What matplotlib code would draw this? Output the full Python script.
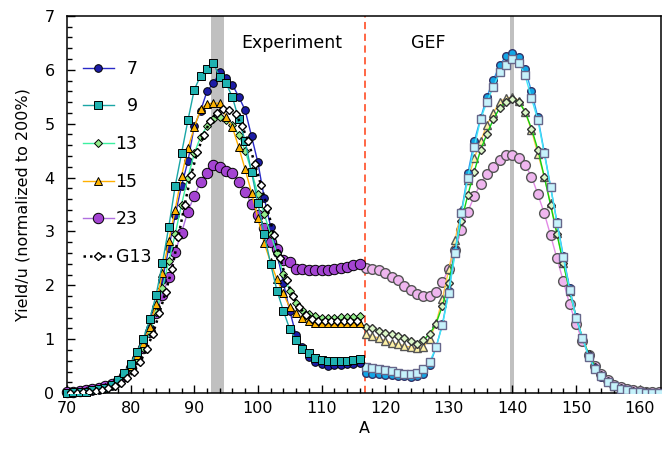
import matplotlib

matplotlib.use("Agg")
import matplotlib.pyplot as plt
from matplotlib.ticker import MultipleLocator

# mass numbers
a_exp = list(range(70, 117))
a_gef = list(range(117, 164))
a_g13 = [a + 0.5 for a in range(70, 116)]

# experiment yields (A = 70..116)
y7_exp = [0.01, 0.01, 0.02, 0.03, 0.04, 0.06, 0.09, 0.14, 0.22, 0.34,
          0.50, 0.70, 0.92, 1.20, 1.60, 2.10, 2.70, 3.30, 3.85, 4.30,
          4.95, 5.24, 5.60, 5.75, 5.95, 5.85, 5.72, 5.50, 5.25, 4.77,
          4.28, 3.62, 3.09, 2.60, 2.05, 1.53, 1.08, 0.85, 0.68, 0.58,
          0.55, 0.50, 0.52, 0.53, 0.54, 0.55, 0.56]
y9_exp = [0.01, 0.02, 0.02, 0.03, 0.05, 0.07, 0.10, 0.16, 0.25, 0.38,
          0.55, 0.76, 1.01, 1.37, 1.82, 2.41, 3.09, 3.84, 4.45, 5.06,
          5.63, 5.89, 6.02, 6.12, 5.87, 5.75, 5.49, 5.08, 4.68, 4.10,
          3.52, 2.95, 2.40, 1.90, 1.53, 1.19, 0.98, 0.82, 0.74, 0.66,
          0.62, 0.60, 0.60, 0.59, 0.60, 0.61, 0.63]
y13_exp = [0.01, 0.02, 0.03, 0.04, 0.06, 0.08, 0.11, 0.16, 0.23, 0.32,
           0.45, 0.62, 0.84, 1.13, 1.50, 1.95, 2.45, 2.95, 3.50, 4.00,
           4.45, 4.76, 4.95, 5.09, 5.12, 5.07, 4.98, 4.79, 4.50, 4.12,
           3.69, 3.32, 2.95, 2.60, 2.22, 1.90, 1.68, 1.55, 1.47, 1.43,
           1.40, 1.40, 1.40, 1.41, 1.42, 1.42, 1.43]
y15_exp = [0.01, 0.02, 0.02, 0.03, 0.05, 0.07, 0.10, 0.15, 0.23, 0.35,
           0.50, 0.70, 0.93, 1.22, 1.66, 2.23, 2.83, 3.40, 4.03, 4.54,
           4.93, 5.27, 5.37, 5.38, 5.38, 5.13, 4.93, 4.56, 4.15, 3.72,
           3.25, 2.78, 2.43, 2.11, 1.85, 1.59, 1.49, 1.39, 1.34, 1.31,
           1.30, 1.30, 1.30, 1.30, 1.30, 1.30, 1.30]
y23_exp = [0.02, 0.03, 0.04, 0.05, 0.07, 0.10, 0.13, 0.17, 0.23, 0.32,
           0.46, 0.63, 0.83, 1.14, 1.48, 1.82, 2.16, 2.62, 2.98, 3.37,
           3.66, 3.92, 4.08, 4.24, 4.19, 4.13, 4.09, 3.92, 3.73, 3.51,
           3.30, 3.07, 2.81, 2.68, 2.47, 2.43, 2.31, 2.30, 2.28, 2.28,
           2.28, 2.29, 2.30, 2.32, 2.35, 2.38, 2.40]
y_g13 = [0.01, 0.01, 0.02, 0.03, 0.04, 0.06, 0.09, 0.13, 0.19, 0.28,
         0.40, 0.58, 0.82, 1.10, 1.48, 1.88, 2.30, 2.90, 3.50, 4.05,
         4.48, 4.79, 5.05, 5.20, 5.28, 5.26, 5.18, 4.96, 4.67, 4.26,
         3.86, 3.43, 2.93, 2.50, 2.10, 1.80, 1.60, 1.45, 1.38, 1.34,
         1.33, 1.33, 1.33, 1.33, 1.33, 1.34]

# GEF yields (A = 117..163)
y7_gef = [0.37, 0.36, 0.35, 0.34, 0.33, 0.32, 0.31, 0.30, 0.31, 0.36,
          0.52, 0.85, 1.28, 1.90, 2.65, 3.37, 4.08, 4.67, 5.10, 5.50,
          5.81, 6.08, 6.26, 6.31, 6.23, 6.01, 5.60, 5.12, 4.48, 3.83,
          3.18, 2.55, 1.95, 1.42, 1.03, 0.69, 0.46, 0.30, 0.20, 0.13,
          0.08, 0.05, 0.03, 0.02, 0.01, 0.01, 0.00]
y9_gef = [0.49, 0.47, 0.45, 0.43, 0.41, 0.38, 0.36, 0.36, 0.38, 0.44,
          0.58, 0.85, 1.26, 1.86, 2.60, 3.34, 4.00, 4.57, 5.08, 5.41,
          5.68, 5.95, 6.09, 6.20, 6.13, 5.90, 5.47, 5.07, 4.45, 3.83,
          3.16, 2.52, 1.92, 1.40, 1.03, 0.67, 0.45, 0.31, 0.20, 0.13,
          0.08, 0.05, 0.03, 0.02, 0.01, 0.01, 0.00]
y13_gef = [1.23, 1.20, 1.16, 1.12, 1.10, 1.06, 1.02, 0.97, 0.92, 0.98,
           1.10, 1.29, 1.62, 2.05, 2.66, 3.20, 3.68, 4.11, 4.51, 4.81,
           5.08, 5.29, 5.41, 5.46, 5.41, 5.22, 4.91, 4.52, 4.02, 3.49,
           2.95, 2.41, 1.88, 1.42, 1.02, 0.72, 0.49, 0.33, 0.22, 0.14,
           0.09, 0.06, 0.04, 0.02, 0.02, 0.01, 0.01]
y15_gef = [1.10, 1.06, 1.02, 0.97, 0.93, 0.91, 0.88, 0.85, 0.83, 0.86,
           1.00, 1.30, 1.75, 2.30, 2.85, 3.40, 3.95, 4.36, 4.67, 4.98,
           5.20, 5.41, 5.47, 5.50, 5.43, 5.22, 4.88, 4.44, 4.02, 3.52,
           2.98, 2.42, 1.90, 1.42, 1.03, 0.72, 0.49, 0.33, 0.22, 0.14,
           0.09, 0.06, 0.04, 0.02, 0.02, 0.01, 0.01]
y23_gef = [2.33, 2.31, 2.28, 2.23, 2.16, 2.10, 1.99, 1.91, 1.84, 1.80,
           1.80, 1.88, 2.06, 2.31, 2.66, 3.03, 3.37, 3.65, 3.89, 4.07,
           4.20, 4.33, 4.41, 4.42, 4.37, 4.23, 4.02, 3.69, 3.34, 2.93,
           2.50, 2.08, 1.65, 1.29, 0.97, 0.71, 0.51, 0.35, 0.24, 0.16,
           0.11, 0.07, 0.05, 0.04, 0.03, 0.02, 0.02]

legend_labels = ["\u20077", "\u20079", "13", "15", "23", "G13"]

plt.rcParams["font.family"] = ["DejaVu Sans"]

fig = plt.figure(figsize=(6.7, 4.54), dpi=100)
ax = fig.add_axes([0.100, 0.134, 0.887, 0.831])

ax.axvspan(92.6, 94.7, color="#c0c0c0", lw=0, zorder=0)
ax.axvspan(139.6, 140.3, color="#c0c0c0", lw=0, zorder=0)
ax.axvline(116.8, color="#ff5a36", ls=(0, (4, 2.5)), lw=1.3, zorder=1)

kw = dict(mec="black", mew=0.7, lw=1.0, clip_on=False)

# GEF part
ax.plot(a_gef, y23_gef, "o", ms=7, mfc="#efb6ef", color="#e28ae6", mec="#555555", ls="-", lw=1.0, zorder=2)
ax.plot(a_gef, y15_gef, "^", ms=6, mfc="#fff2a6", color="#ffc44a", mec="#555555", ls="-", lw=1.0, zorder=2)
ax.plot(a_gef, y13_gef, "D", ms=4.5, mfc="#dcf7c8", color="#10d010", mec="#333333", ls="-", lw=1.0, zorder=3)
ax.plot(a_gef, y7_gef, "o", ms=5.5, mfc="#12a6e6", color="#2a9cf0", mec="#333366", ls="-", lw=1.0, zorder=3)
ax.plot(a_gef, y9_gef, "s", ms=5.5, mfc="#c6f2fb", color="#44e6f6", mec="#66668a", ls="-", lw=1.0, zorder=4)

# experiment part
l7, = ax.plot(a_exp, y7_exp, "o-", ms=5.5, mfc="#1c1ca6", color="#2a2ac8", zorder=5, **kw)
l9, = ax.plot(a_exp, y9_exp, "s-", ms=5.5, mfc="#1fb2b0", color="#1aa6a6", zorder=6, **kw)
l13, = ax.plot(a_exp, y13_exp, "D-", ms=4.5, mfc="#94ee8c", color="#3cf0a0", zorder=5, **kw)
l15, = ax.plot(a_exp, y15_exp, "^-", ms=6, mfc="#ffb400", color="#ffb000", zorder=5, **kw)
lg, = ax.plot(a_g13, y_g13, "D", ms=4.5, mfc="white", color="black", ls=(0, (1, 1.6)), lw=1.8,
              mec="black", mew=1.0, zorder=6)
l23, = ax.plot(a_exp, y23_exp, "o-", ms=7.5, mfc="#a444d2", color="#b070e0", zorder=4, **kw)

ax.text(105.4, 6.5, "Experiment", ha="center", va="center", fontsize=12.5)
ax.text(126.8, 6.5, "GEF", ha="center", va="center", fontsize=12.5)

ax.legend([l7, l9, l13, l15, l23, lg], legend_labels, loc="upper left",
          bbox_to_anchor=(0.0, 0.925), frameon=False, fontsize=12.5,
          handlelength=1.8, labelspacing=1.13, handletextpad=0.1)

ax.set_xlim(70, 163.4)
ax.set_ylim(0, 7)
ax.xaxis.set_major_locator(MultipleLocator(10))
ax.xaxis.set_minor_locator(MultipleLocator(2))
ax.yaxis.set_major_locator(MultipleLocator(1))
ax.yaxis.set_minor_locator(MultipleLocator(0.2))
ax.tick_params(which="both", direction="in", labelsize=11.5, width=1.0)
ax.tick_params(which="major", length=6)
ax.tick_params(which="minor", length=3.5)
ax.tick_params(axis="y", which="major", pad=9)
ax.tick_params(axis="x", which="major", pad=6)
for s in ax.spines.values():
    s.set_linewidth(1.1)

ax.set_xlabel("A", fontsize=11.5, labelpad=3)
ax.set_ylabel("Yield/u (normalized to 200%)", fontsize=11.5, labelpad=10)

fig.savefig("out.png", dpi=100)
